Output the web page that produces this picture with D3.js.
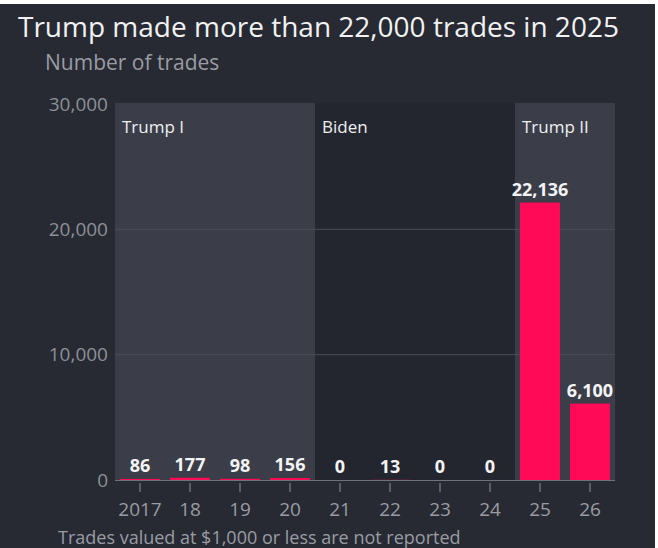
<!DOCTYPE html>
<html>
<head>
<meta charset="utf-8">
<script src="https://cdn.jsdelivr.net/npm/d3@7"></script>
<style>
  html, body { margin: 0; padding: 0; background: #272a33; }
  svg { display: block; }
</style>
</head>
<body>
<svg id="chart" width="658" height="548"></svg>
<script>
// Trades per year
const years = ["2017", "2018", "2019", "2020", "2021", "2022", "2023", "2024", "2025", "2026"];
const yearLabels = ["2017", "18", "19", "20", "21", "22", "23", "24", "25", "26"];
const trades = [86, 177, 98, 156, 0, 13, 0, 0, 22136, 6100];

// Administrations (first and last year of each term shown)
const periodNames = ["Trump I", "Biden", "Trump II"];
const periodStart = ["2017", "2021", "2025"];
const periodEnd = ["2020", "2024", "2026"];

const yTicks = [0, 10000, 20000, 30000];

const W = 658, H = 548;
const margin = { left: 115, right: 43, top: 104, bottom: 68 };

const svg = d3.select("#chart");
const fontFam = "'Open Sans', 'Noto Sans', sans-serif";

svg.append("rect").attr("width", W).attr("height", H).attr("fill", "#272a33");

const x = d3.scaleBand().domain(years).range([margin.left, W - margin.right]).paddingInner(0.2).paddingOuter(0.1);
const y = d3.scaleLinear().domain([0, 30000]).range([H - margin.bottom, margin.top]);

// Period panels
const panelFill = ["#3b3e48", "#23262e", "#3b3e48"];
periodNames.forEach((name, i) => {
  const x0 = x(periodStart[i]) - x.step() * x.paddingInner() / 2;
  const x1 = x(periodEnd[i]) + x.bandwidth() + x.step() * x.paddingInner() / 2;
  svg.append("rect")
    .attr("x", x0).attr("y", y(30000) - 1)
    .attr("width", x1 - x0).attr("height", y(0) - y(30000) + 1)
    .attr("fill", panelFill[i]);
  svg.append("text")
    .attr("x", x0 + 7).attr("y", y(30000) + 29)
    .attr("fill", "#eeeff1")
    .style("font-family", fontFam).style("font-size", "17px")
    .text(name);
});

// Gridlines
svg.append("g").selectAll("line").data(yTicks.filter(d => d > 0 && d < 30000)).join("line")
  .attr("x1", x.range()[0]).attr("x2", x.range()[1])
  .attr("y1", d => y(d)).attr("y2", d => y(d))
  .attr("stroke", "#4a4d57").attr("stroke-width", 1);

// Y axis labels
const yAxis = d3.axisLeft(y).tickValues(yTicks).tickFormat(d3.format(",")).tickSize(0).tickPadding(7);
const gy = svg.append("g").attr("transform", `translate(${margin.left},0)`).call(yAxis);
gy.select(".domain").remove();
gy.selectAll("text").attr("fill", "#8d9097").style("font-family", fontFam).style("font-size", "19px");

// X axis
const xAxis = d3.axisBottom(x).tickFormat((d, i) => yearLabels[i]).tickSize(12).tickPadding(11);
const gx = svg.append("g").attr("transform", `translate(0,${y(0)})`).call(xAxis);
gx.select(".domain").attr("stroke", "#6f727a").attr("d", `M${x.range()[0]},0.5H${x.range()[1]}`);
gx.selectAll(".tick line").attr("stroke", "#8d9097").attr("y1", 3);
gx.selectAll("text").attr("fill", "#9a9ca3").style("font-family", fontFam).style("font-size", "19px");

// Bars
svg.append("g").selectAll("rect").data(years).join("rect")
  .attr("x", d => x(d))
  .attr("width", x.bandwidth())
  .attr("y", (d, i) => y(trades[i]))
  .attr("height", (d, i) => y(0) - y(trades[i]))
  .attr("fill", "#ff0a56");

// Value labels
svg.append("g").selectAll("text").data(years).join("text")
  .attr("x", d => x(d) + x.bandwidth() / 2)
  .attr("y", (d, i) => y(trades[i]) - 7)
  .attr("text-anchor", "middle")
  .attr("fill", "#f4f4f6")
  .style("font-family", fontFam).style("font-size", "18px").style("font-weight", "700")
  .text((d, i) => d3.format(",")(trades[i]));

// Title, subtitle, note
svg.append("text").attr("x", 18).attr("y", 37)
  .attr("fill", "#f2f2f4").style("font-family", fontFam).style("font-size", "28px")
  .text("Trump made more than 22,000 trades in 2025");
svg.append("text").attr("x", 45).attr("y", 70)
  .attr("fill", "#9a9ca3").style("font-family", fontFam).style("font-size", "21px")
  .text("Number of trades");
svg.append("text").attr("x", 58).attr("y", 544)
  .attr("fill", "#9a9ca3").style("font-family", fontFam).style("font-size", "18px")
  .text("Trades valued at $1,000 or less are not reported");

// Page edges
svg.append("rect").attr("x", 0).attr("y", 0).attr("width", W).attr("height", 4).attr("fill", "#ffffff");
svg.append("rect").attr("x", W - 3).attr("y", 0).attr("width", 3).attr("height", H).attr("fill", "#ffffff");
</script>
</body>
</html>
